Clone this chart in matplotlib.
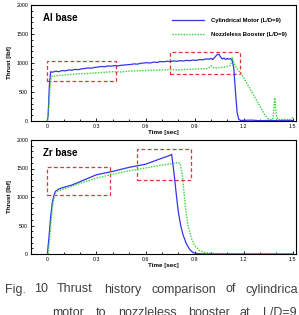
import matplotlib
matplotlib.use("Agg")
import matplotlib.pyplot as plt
from matplotlib.patches import Rectangle
from matplotlib.ticker import MultipleLocator

plt.rcParams['font.family'] = ['Liberation Sans', 'DejaVu Sans']

W, H = 299, 315

# ---- Al base data (time [sec], thrust [lbf])
al_motor_t = [0.0, 0.005, 0.012, 0.02, 0.03, 0.05, 0.07, 0.09, 0.11, 0.13, 0.15, 0.17, 0.19,
              0.21, 0.23, 0.25, 0.27, 0.29, 0.31, 0.33, 0.35, 0.37, 0.39, 0.41, 0.43, 0.45,
              0.47, 0.49, 0.51, 0.53, 0.55, 0.57, 0.59, 0.61, 0.63, 0.65, 0.67, 0.69, 0.71,
              0.73, 0.75, 0.77, 0.79, 0.81, 0.83, 0.85, 0.87, 0.89, 0.91, 0.93, 0.95, 0.97,
              0.99, 1.00, 1.01, 1.02, 1.03, 1.04, 1.05, 1.06, 1.07, 1.08, 1.09, 1.10, 1.11,
              1.12, 1.13, 1.14, 1.15, 1.16, 1.17, 1.18, 1.25, 1.30, 1.35, 1.40, 1.45, 1.50]
al_motor_f = [0, 100, 600, 850, 840, 860, 850, 870, 865, 880, 875, 890, 885,
              900, 905, 915, 910, 925, 930, 940, 935, 950, 945, 955, 950, 960,
              965, 970, 975, 985, 980, 995, 1000, 1005, 1000, 1015, 1010, 1025, 1020,
              1030, 1025, 1035, 1030, 1040, 1035, 1045, 1040, 1050, 1045, 1060, 1055, 1070,
              1065, 1080, 1060, 1085, 1120, 1150, 1145, 1100, 1070, 1085, 1060, 1080, 1065,
              1075, 1050, 900, 500, 150, 30, 10, 15, 5, 10, 8, 12, 10]

al_boost_t = [0.0, 0.01, 0.02, 0.03, 0.05, 0.07, 0.09, 0.11, 0.13, 0.15, 0.2, 0.25, 0.3,
              0.35, 0.4, 0.45, 0.5, 0.55, 0.6, 0.65, 0.7, 0.75, 0.8, 0.85, 0.9, 0.95, 0.98,
              1.0, 1.02, 1.05, 1.08, 1.1, 1.12, 1.13, 1.14, 1.16, 1.19, 1.22, 1.26, 1.29,
              1.31, 1.33, 1.35, 1.37, 1.38, 1.39, 1.40, 1.41, 1.45, 1.48, 1.50]
al_boost_f = [0, 300, 700, 780, 770, 790, 785, 795, 800, 805, 815, 820, 830,
              840, 850, 845, 860, 865, 870, 875, 880, 885, 880, 890, 895, 900, 905,
              950, 910, 920, 930, 940, 960, 1100, 1000, 900, 800, 650, 450, 300,
              200, 100, 40, 20, 50, 400, 100, 20, 30, 20, 60]

# ---- Zr base data
zr_motor_t = [0.0, 0.01, 0.02, 0.03, 0.04, 0.05, 0.07, 0.10, 0.15, 0.20, 0.30, 0.40, 0.45,
              0.50, 0.60, 0.70, 0.75, 0.76, 0.775, 0.79, 0.80, 0.815, 0.83, 0.85, 0.87,
              0.89, 0.92, 0.95, 1.5]
zr_motor_f = [0, 300, 650, 900, 1030, 1100, 1140, 1170, 1210, 1270, 1390, 1450, 1485,
              1520, 1575, 1680, 1730, 1750, 1400, 1000, 750, 500, 330, 180, 80,
              25, 5, 2, 0]

zr_boost_t = [0.005, 0.015, 0.03, 0.045, 0.06, 0.10, 0.20, 0.30, 0.40, 0.50, 0.60, 0.70,
              0.75, 0.80, 0.81, 0.825, 0.835, 0.845, 0.86, 0.88, 0.90, 0.93, 0.97, 1.02,
              1.10, 1.5]
zr_boost_f = [0, 300, 800, 1050, 1100, 1140, 1240, 1330, 1400, 1460, 1510, 1560,
              1580, 1605, 1590, 1400, 1100, 800, 500, 280, 150, 60, 20, 8,
              0, 0]

# dashed highlight boxes: (t0, f0, t1, f1)
al_boxes = [(0.0, 690, 0.42, 1040), (0.75, 810, 1.175, 1185)]
zr_boxes = [(0.0, 1035, 0.385, 1530), (0.55, 1300, 0.88, 1835)]

x_ticks = [0, 0.3, 0.6, 0.9, 1.2, 1.5]
x_tick_labels = ['0', '0.3', '0.6', '0.9', '1.2', '1.5']
y_ticks = [0, 500, 1000, 1500, 2000]

# caption words and their left edge in pixels (justified text in the paper)
caption_1 = [("Fig.", 5), ("10", 34), ("Thrust", 57), ("history", 104),
             ("comparison", 151), ("of", 225), ("cylindrica", 245)]
caption_2 = [("motor", 52), ("to", 96), ("nozzleless", 118), ("booster", 188),
             ("at", 240), ("L/D=9", 263)]

BLUE = '#3535e6'
GREEN = '#2fd62f'
RED = '#e03535'

fig = plt.figure(figsize=(W / 100, H / 100), dpi=100)
ax1 = fig.add_axes([31 / W, 1 - 121 / H, 265 / W, 116 / H])
ax2 = fig.add_axes([31 / W, 1 - 254 / H, 265 / W, 114 / H])


def style_axes(ax, title):
    ax.set_xlim(-0.1, 1.52)
    ax.set_ylim(0, 2000)
    ax.set_xticks(x_ticks)
    ax.set_xticklabels(x_tick_labels)
    ax.set_yticks(y_ticks)
    ax.xaxis.set_minor_locator(MultipleLocator(0.1))
    ax.yaxis.set_minor_locator(MultipleLocator(100))
    ax.tick_params(which='both', direction='in', top=False, right=False,
                   labelsize=3.8, width=0.6, pad=2)
    ax.tick_params(which='major', length=2.5)
    ax.tick_params(which='minor', length=1.3)
    for sp in ax.spines.values():
        sp.set_linewidth(0.8)
    ax.set_xlabel('Time [sec]', fontsize=4.5, fontweight='bold', labelpad=1)
    ax.set_ylabel('Thrust [lbf]', fontsize=4.5, fontweight='bold', labelpad=3)
    ax.text(0.045, 0.89, title, transform=ax.transAxes, fontsize=7,
            fontweight='bold', va='center')


def draw_boxes(ax, boxes):
    for t0, f0, t1, f1 in boxes:
        ax.add_patch(Rectangle((t0, f0), t1 - t0, f1 - f0, fill=False,
                               edgecolor=RED, linewidth=0.9, linestyle=(0, (3, 2))))


DOTS = (0, (1, 1))

ax1.plot(al_motor_t, al_motor_f, color=BLUE, linewidth=0.9, label='Cylindrical Motor (L/D=9)')
ax1.plot(al_boost_t, al_boost_f, color=GREEN, linewidth=1.0, linestyle=DOTS,
         label='Nozzleless Booster (L/D=9)')
draw_boxes(ax1, al_boxes)
style_axes(ax1, 'Al base')
leg = ax1.legend(loc='upper right', bbox_to_anchor=(0.985, 0.93), frameon=False,
                 prop={'size': 4.2, 'weight': 'bold'}, handlelength=5.5,
                 handletextpad=1.2, labelspacing=1.5)

ax2.plot(zr_motor_t, zr_motor_f, color=BLUE, linewidth=0.9)
ax2.plot(zr_boost_t, zr_boost_f, color=GREEN, linewidth=1.0, linestyle=DOTS)
draw_boxes(ax2, zr_boxes)
style_axes(ax2, 'Zr base')

for word, px in caption_1:
    fig.text(px / W, 1 - 292.5 / H, word, fontsize=9.0, color='#404040', va='baseline')
for word, px in caption_2:
    fig.text(px / W, 1 - 315.5 / H, word, fontsize=9.0, color='#404040', va='baseline')

fig.savefig('out.png', dpi=100)
